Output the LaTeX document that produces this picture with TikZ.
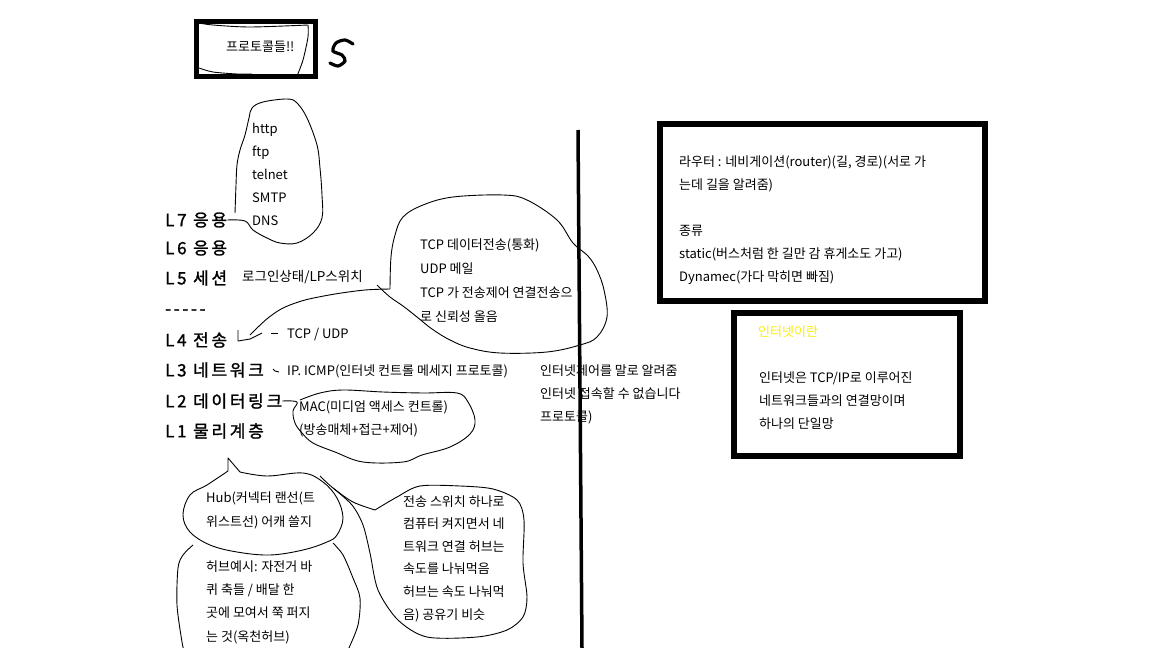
\documentclass[tikz,border=0pt]{standalone}
\usepackage{fontspec}
\setmainfont{Noto Sans CJK KR}
\newfontfamily\lblfont[LetterSpace=16, FakeBold=1.3]{Noto Sans CJK KR}
\usepackage{tikz}
\usetikzlibrary{positioning}
\definecolor{hlyellow}{RGB}{250,240,0}

\begin{document}
\begin{tikzpicture}[x=1pt, y=-1pt,
   pen/.style={black, line width=0.9pt, line join=round},
   heavy/.style={black, line width=6pt},
   note/.style={anchor=west, inner sep=0pt, align=left, font=\fontsize{13}{23}\selectfont},
   layer/.style={anchor=west, inner sep=0pt, font=\lblfont\fontsize{17}{20}\selectfont}]

  \useasboundingbox (0,0) rectangle (1152,648);
  \fill[white] (0,0) rectangle (1152,648);

  % title
  \draw[heavy, line width=5pt] (196.5,21.5) rectangle (315.5,76.5);
  \draw[pen] plot[smooth] coordinates {(199,23) (213,25) (250,27) (308,25)};
  \draw[pen] plot[smooth] coordinates {(308,25) (308,37) (303,60) (297,76)};
  \draw[pen] plot[smooth] coordinates {(199,68) (213,72) (237,74) (252,74)};
  \node[note] (title) at (226,47) {프로토콜들!!};
  \draw[black, line width=3.2pt, line cap=round]
    plot[smooth] coordinates {(353,44) (345,40) (336,43) (333,51) (342,55) (345,61) (338,66) (330,63)};

  % layers
  \node[layer] (l7) at (165,220) {L7 응용};
  \node[layer] (l6) at (165,248) {L6 응용};
  \node[layer] (l5) at (165,278) {L5 세션};
  \node[layer] (sep) at (165,312) {-----};
  \node[layer] (l4) at (165,340) {L4 전송};
  \node[layer] (l3) at (165,370) {L3 네트워크};
  \node[layer] (l2) at (165,401) {L2 데이터링크};
  \node[layer] (l1) at (165,431) {L1 물리계층};

  % application protocols
  \draw[pen] plot[smooth, tension=0.6] coordinates {(l7.east) (245,221) (253,230) (267,238)
    (280,243) (297,243) (313,233) (322,218) (322,195) (320,168) (317,145) (307,118)
    (297,103) (287,99) (263,102) (252,108) (249,118) (245,135) (240,150) (237,165)
    (236,185) (235,213)};
  \node[note] (protolist) at (252,174) {http\\ftp\\telnet\\SMTP\\DNS};

  \node[note, font=\fontsize{13.5}{24}\selectfont] (login) at (242,277) {로그인상태/LP스위치};

  % transport
  \draw[pen] plot[smooth, tension=0.6] coordinates {(377,285) (390,297) (403,306) (417,317)
    (432,329) (450,340) (470,348) (500,353) (547,352) (580,345) (597,337) (607,317)
    (604,290) (597,270) (588,256) (573,243) (557,220) (527,200) (503,195) (453,197)
    (423,205) (403,217) (395,235) (391,257) (390,289)};
  \node[note, font=\fontsize{13}{24}\selectfont] (tcpnote) at (420,281)
    {TCP 데이터전송(통화)\\UDP 메일\\TCP 가 전송제어 연결전송으\\로 신뢰성 올음};
  \draw[pen] plot[smooth] coordinates {(390,289) (365,290) (335,294) (305,300) (283,308)
    (268,318) (256,329) (250,335)};
  \draw[pen] (238,330) -- (238,341) -- (250,339) -- (262,333);
  \draw[pen] (271,333) -- (278,333);
  \node[note] (tcpudp) at (287,334) {TCP / UDP};

  % network
  \draw[pen] (273,369) -- (275,371) -- (279,372);
  \node[note] (icmp) at (287,371) {IP. ICMP(인터넷 컨트롤 메세지 프로토콜)};
  \node[note] (inetctl) at (540,394) {인터넷제어를 말로 알려줌\\인터넷 접속할 수 없습니다\\프로토콜)};

  % data link
  \draw[pen] plot[smooth, tension=0.6] coordinates {(l2.east) (297,402) (293,411) (295,423)
    (302,433) (313,443) (335,452) (363,462) (403,462) (422,455) (450,447) (470,434)
    (475,420) (468,402) (457,393) (423,393) (383,392) (343,390) (320,393) (300,400)};
  \node[note] (mac) at (299,418.5) {MAC(미디엄 액세스 컨트롤)\\(방송매체+접근+제어)};

  % hub bubbles
  \draw[pen] (228,471) -- (228,458) -- (240,472);
  \draw[pen] plot[smooth, tension=0.6] coordinates {(240,472) (267,476) (303,473) (323,482)
    (337,498) (343,518) (337,535) (327,542) (303,550) (270,555) (237,552) (210,545)
    (190,532) (183,515) (190,495) (207,485) (228,471)};
  \node[note, font=\fontsize{13}{24}\selectfont] (hub) at (206,510)
    {Hub(커넥터 랜선(트\\위스트선) 어캐 쓸지};
  \draw[pen] plot[smooth] coordinates {(193,545) (183,555) (178,568) (177,605) (182,642) (184,650)};
  \draw[pen] plot[smooth] coordinates {(333,543) (343,555) (353,578) (360,598) (358,625) (348,650)};
  \node[note, font=\fontsize{13}{23.3}\selectfont] (hubex) at (206,602)
    {허브예시: 자전거 바\\퀴 축들 / 배달 한\\곳에 모여서 쭉 퍼지\\는 것(옥천허브)};

  \draw[pen] plot[smooth, tension=0.5] coordinates {(320,476) (333,488) (353,502) (375,510)};
  \draw[pen] plot[smooth, tension=0.5] coordinates {(375,510) (397,497) (420,486) (460,486)
    (493,489) (517,500) (524,520) (523,563) (527,597) (523,617) (507,630) (477,637)
    (427,637) (398,620) (378,590) (370,553) (363,525) (352,505) (333,488)};
  \node[note, font=\fontsize{13}{22.6}\selectfont] (switchnote) at (403,558.5)
    {전송 스위치 하나로\\컴퓨터 켜지면서 네\\트워크 연결 허브는\\속도를 나눠먹음\\허브는 속도 나눠먹\\음) 공유기 비슷};

  % divider
  \draw[black, line width=3.5pt] (578,130) -- (582,648);

  % router
  \draw[heavy] (660,124) rectangle (985,301);
  \node[note] (router) at (679,220.5)
    {라우터 : 네비게이션(router)(길, 경로)(서로 가\\는데 길을 알려줌)\\[23pt]종류\\static(버스처럼 한 길만 감 휴게소도 가고)\\Dynamec(가다 막히면 빠짐)};

  % internet
  \draw[heavy] (733.5,312.5) rectangle (959.5,455.5);
  \node[note, text=hlyellow] (inettitle) at (758,332) {인터넷이란};
  \node[note] (inetbody) at (759,401)
    {인터넷은 TCP/IP로 이루어진\\네트워크들과의 연결망이며\\하나의 단일망};
\end{tikzpicture}
\end{document}
